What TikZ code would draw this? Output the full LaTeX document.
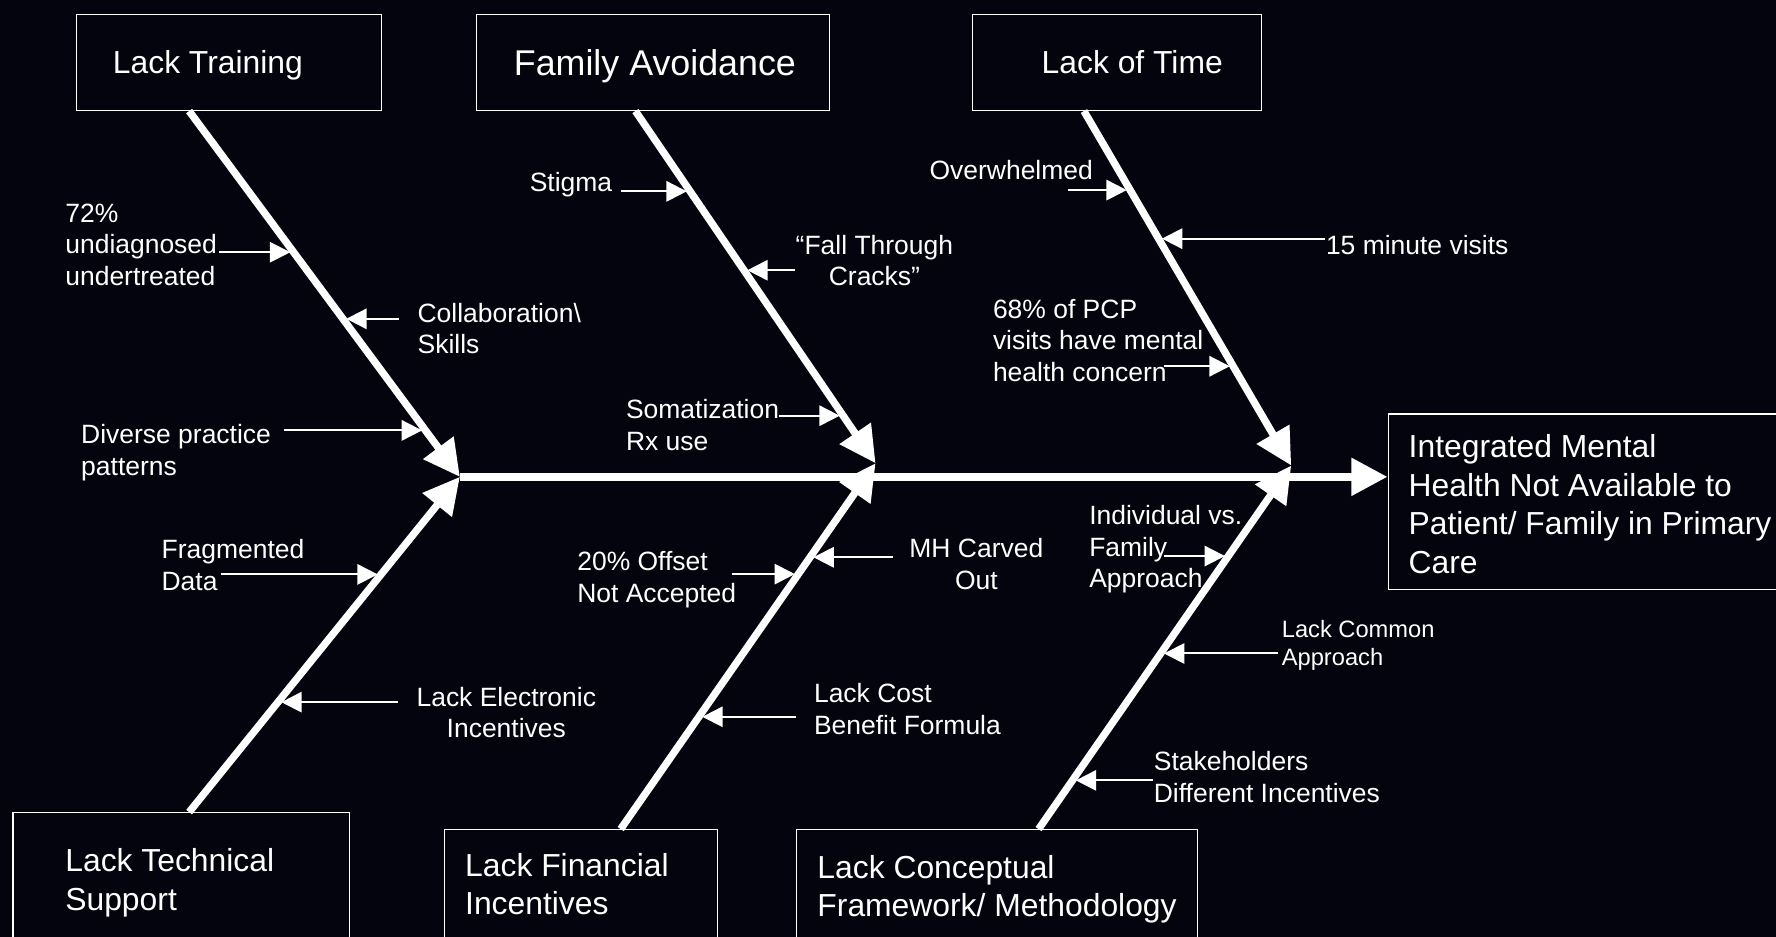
\documentclass[tikz,border=0pt]{standalone}
\usepackage{fontspec}
\setmainfont{Liberation Sans}
\usepackage{tikz}
\usetikzlibrary{positioning}
\usetikzlibrary{calc}
\usetikzlibrary{arrows.meta}
\definecolor{fondo}{RGB}{4, 4, 14}

\begin{document}
\begin{tikzpicture}[x=0.02cm,y=-0.02cm,thick]
    % fondo negro y recorte
    \useasboundingbox (0,0) rectangle (1568,827);
    \fill[fondo] (0,0) rectangle (1568,827);
    \clip (0,0) rectangle (1568,827);
    \tikzstyle{causebox}=[draw=white,line width=0.6pt,anchor=north west,minimum height=1.7cm,inner sep=0]
    \tikzstyle{boxtext}=[text=white,align=left,anchor=west,inner sep=0,font=\fontsize{16}{19.3}\selectfont]
    \tikzstyle{lab}=[text=white,align=left,anchor=west,inner sep=0,font=\fontsize{13.3}{15.9}\selectfont]
    \tikzstyle{bone}=[white,line width=0.13cm,-{Triangle[length=0.64cm,width=0.64cm]}]
    \tikzstyle{cause}=[white,line width=1pt,-{Triangle[length=0.36cm,width=0.36cm]},shorten >=0.06cm]

    \node[causebox,minimum width=5.38cm] (train) at (67,12) {};
    \node[causebox,minimum width=6.24cm] (family) at (420,12) {};
    \node[causebox,minimum width=5.10cm] (time) at (858,12) {};
    \node[causebox,minimum width=7.50cm,minimum height=3.10cm] (effect) at (1225,365) {};
    \node[causebox,minimum width=5.94cm,minimum height=2.6cm] (tech) at (11,717) {};
    \node[causebox,minimum width=4.82cm,minimum height=2.4cm] (money) at (392,732) {};
    \node[causebox,minimum width=7.08cm,minimum height=2.4cm] (concept) at (703,732) {};

    \node[boxtext,right=0.64cm of train.west,yshift=-0.05cm] (trainT) {Lack Training};
    \node[boxtext,right=0.66cm of family.west,yshift=-0.07cm,font=\fontsize{18}{21.6}\selectfont] (familyT) {Family Avoidance};
    \node[boxtext,right=1.22cm of time.west] (timeT) {Lack of Time};
    \node[boxtext,right=0.36cm of effect.west,yshift=-0.04cm] (effectT) {Integrated Mental\\Health Not Available to\\Patient/ Family in Primary\\Care};
    \node[boxtext] (techT) at ([shift={(0.92cm,-1.25cm)}]tech.north west) {Lack Technical\\Support};
    \node[boxtext] (moneyT) at ([shift={(0.36cm,-0.97cm)}]money.north west) {Lack Financial\\Incentives};
    \node[boxtext] (conceptT) at ([shift={(0.36cm,-1.06cm)}]concept.north west) {Lack Conceptual\\Framework/ Methodology};

    \coordinate (j1) at (406,421);
    \coordinate (j2) at (773,409);
    \coordinate (j3) at (1140,411);
    \coordinate (b1) at ([xshift=2cm]train.south west);
    \coordinate (b2) at ([xshift=2.82cm]family.south west);
    \coordinate (b3) at ([xshift=1.98cm]time.south west);
    \coordinate (b4) at ([xshift=3.12cm]tech.north west);
    \coordinate (b5) at ([xshift=3.12cm]money.north west);
    \coordinate (b6) at ([xshift=4.28cm]concept.north west);

    \draw[bone,line width=0.14cm] (j1) -- (j1 -| effect.west);
    \path[bone] (b1) edge (j1) (b4) edge (j1)
    (b2) edge (j2) (b5) edge (j2)
    (b3) edge (j3) (b6) edge (j3);

    \node[lab] (undiag) at (57,216) {72\%\\undiagnosed\\undertreated};
    \node[lab] (collab) at (368,290) {Collaboration\textbackslash\\Skills};
    \node[lab] (diverse) at (71,399.5) {Diverse practice\\patterns};
    \node[lab] (frag) at (142,499) {Fragmented\\Data};
    \node[lab,align=center,anchor=center] (elec) at (447,629) {Lack Electronic\\Incentives};
    \node[lab] (stigma) at (467,163) {Stigma};
    \node[lab,align=center,anchor=center] (cracks) at (772,230) {“Fall Through\\Cracks”};
    \node[lab] (somat) at (552,375) {Somatization\\Rx use};
    \node[lab] (offset) at (509,512) {20\% Offset\\Not Accepted};
    \node[lab,align=center,anchor=center] (carved) at (862,498) {MH Carved\\Out};
    \node[lab] (cost) at (718,626) {Lack Cost\\Benefit Formula};
    \node[lab] (overw) at (820,150) {Overwhelmed};
    \node[lab] (visits) at (1170,216) {15 minute visits};
    \node[lab] (pcp) at (876,300.5) {68\% of PCP\\visits have mental\\health concern};
    \node[lab] (indiv) at (961,485) {Individual vs.\\Family\\Approach};
    \node[lab,font=\fontsize{11.9}{14.2}\selectfont] (common) at (1131,569.5) {Lack Common\\Approach};
    \node[lab] (stake) at (1018,686) {Stakeholders\\Different Incentives};

    \coordinate (ta) at ($(b1)!0.386!(j1)$);
    \coordinate (tb) at ($(b1)!0.568!(j1)$);
    \coordinate (tc) at ($(b1)!0.873!(j1)$);
    \coordinate (td) at ($(b4)!0.709!(j1)$);
    \coordinate (te) at ($(b4)!0.328!(j1)$);
    \coordinate (tf) at ($(b2)!0.228!(j2)$);
    \coordinate (tg) at ($(b2)!0.452!(j2)$);
    \coordinate (th) at ($(b2)!0.865!(j2)$);
    \coordinate (ti) at ($(b5)!0.697!(j2)$);
    \coordinate (tj) at ($(b5)!0.743!(j2)$);
    \coordinate (tk) at ($(b5)!0.307!(j2)$);
    \coordinate (tl) at ($(b3)!0.223!(j3)$);
    \coordinate (tm) at ($(b3)!0.360!(j3)$);
    \coordinate (tn) at ($(b3)!0.720!(j3)$);
    \coordinate (tt) at ($(b6)!0.751!(j3)$);
    \coordinate (tp) at ($(b6)!0.483!(j3)$);
    \coordinate (tq) at ($(b6)!0.134!(j3)$);

    \path[cause]
    (undiag.west |- ta) edge[shorten <=2.72cm] (ta)
    (collab.west |- tb) edge[shorten <=0.32cm] (tb)
    (diverse.west |- tc) edge[shorten <=3.6cm] (tc)
    (frag.west |- td) edge[shorten <=1.06cm] (td)
    (elec.west |- te) edge[shorten <=0.32cm] (te)
    (stigma.west |- tf) edge[shorten <=1.62cm] (tf)
    (cracks.west |- tg) edge (tg)
    (somat.west |- th) edge[shorten <=2.72cm] (th)
    (offset.west |- ti) edge[shorten <=2.74cm] (ti)
    (carved.west |- tj) edge[shorten <=0.28cm] (tj)
    (cost.west |- tk) edge[shorten <=0.3cm] (tk)
    (overw.west |- tl) edge[shorten <=2.46cm] (tl)
    (visits.west |- tm) edge (tm)
    (pcp.west |- tn) edge[shorten <=3.04cm] (tn)
    (indiv.west |- tt) edge[shorten <=1.34cm] (tt)
    (common.west |- tp) edge[shorten <=0.06cm] (tp)
    (stake.west |- tq) edge (tq);
\end{tikzpicture}
\end{document}
